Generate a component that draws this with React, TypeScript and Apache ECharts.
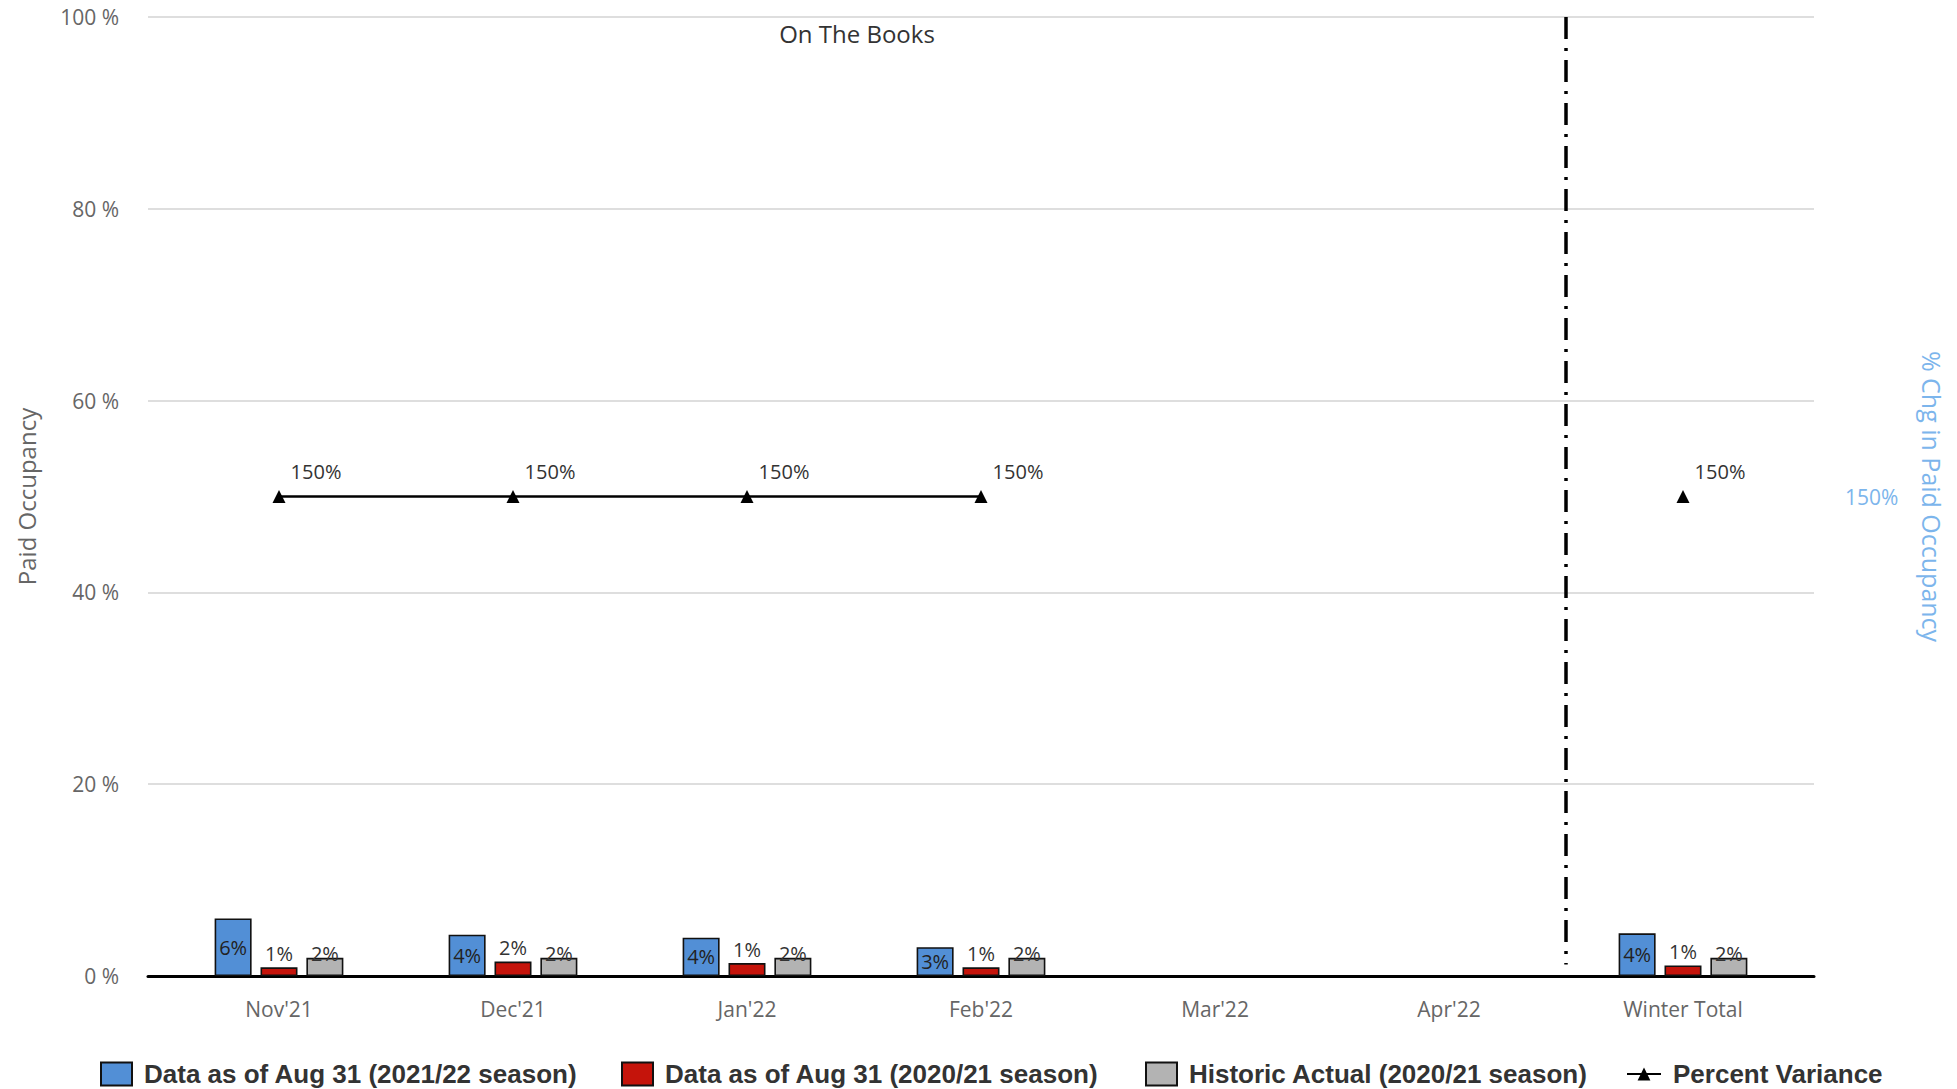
import React, { useEffect, useRef } from "react";
import * as echarts from "echarts";

const categories = ["Nov'21", "Dec'21", "Jan'22", "Feb'22", "Mar'22", "Apr'22", "Winter Total"];
const season2122 = [6.0, 4.3, 4.0, 3.0, null, null, 4.45];
const season2021 = [0.9, 1.5, 1.35, 0.9, null, null, 1.1];
const historic2021 = [1.9, 1.9, 1.9, 1.9, null, null, 1.9];
const percentVariance = [150, 150, 150, 150, null, null, 150];
const leftTicks = [0, 20, 40, 60, 80, 100];

const seriesNames = [
  "Data as of Aug 31 (2021/22 season)",
  "Data as of Aug 31 (2020/21 season)",
  "Historic Actual (2020/21 season)",
  "Percent Variance",
];

const FONT = "'Open Sans', 'DejaVu Sans', sans-serif";
const LEGEND_FONT = "'Liberation Sans', Arial, sans-serif";

export default function App() {
  const ref = useRef<HTMLDivElement>(null);

  useEffect(() => {
    if (!ref.current) return;
    const chart = echarts.init(ref.current, undefined, { renderer: "svg" });

    const barLabelBase = {
      show: true,
      fontFamily: FONT,
      fontSize: 20,
      color: "#333",
      formatter: (p: any) => (p.value == null ? "" : Math.round(p.value) + "%"),
    };

    const legendBase = (name: string, left: number, isLine = false) => ({
      data: [name],
      left,
      top: 1061,
      padding: 0,
      itemWidth: isLine ? 34 : 31,
      itemHeight: isLine ? 16 : 23,
      icon: isLine ? undefined : "rect",
      selectedMode: false,
      textStyle: {
        fontFamily: LEGEND_FONT,
        fontSize: 26,
        fontWeight: "bold",
        color: "#333",
        padding: [0, 0, 0, 7],
      },
    });

    chart.setOption({
      animation: false,
      backgroundColor: "#fff",
      grid: [
        { left: 148, right: 143, top: 17, bottom: 113 },
        { left: 162, right: 157, top: 17, bottom: 113 },
      ],
      legend: [
        legendBase(seriesNames[0], 100),
        legendBase(seriesNames[1], 621),
        legendBase(seriesNames[2], 1145),
        legendBase(seriesNames[3], 1626, true),
      ],
      xAxis: [
        {
          gridIndex: 0,
          type: "value",
          min: 0,
          max: 1,
          axisLine: { show: true, onZero: false, lineStyle: { color: "#000", width: 3 } },
          axisTick: { show: false },
          axisLabel: { show: false },
          splitLine: { show: false },
        },
        {
          gridIndex: 1,
          type: "category",
          data: categories,
          axisLine: { show: false },
          axisTick: { show: false },
          axisLabel: { color: "#666", fontFamily: FONT, fontSize: 21, margin: 22 },
          splitLine: { show: false },
        },
      ],
      yAxis: [
        {
          gridIndex: 0,
          type: "value",
          min: leftTicks[0],
          max: leftTicks[leftTicks.length - 1],
          interval: 20,
          axisLine: { show: false },
          axisTick: { show: false },
          axisLabel: {
            color: "#666",
            fontFamily: FONT,
            fontSize: 21,
            margin: 29,
            formatter: "{value} %",
          },
          splitLine: { lineStyle: { color: "#d3d3d3", width: 1.5 } },
          name: "Paid Occupancy",
          nameLocation: "middle",
          nameRotate: 90,
          nameGap: 110,
          nameTextStyle: { color: "#666", fontFamily: FONT, fontSize: 24 },
        },
        {
          gridIndex: 1,
          type: "value",
          min: 0,
          max: 100,
          show: false,
        },
        {
          gridIndex: 1,
          type: "value",
          position: "right",
          min: 0,
          max: 300,
          interval: 150,
          axisLine: { show: false },
          axisTick: { show: false },
          splitLine: { show: false },
          axisLabel: {
            color: "#7cb5ec",
            fontFamily: FONT,
            fontSize: 21,
            margin: 45,
            formatter: (v: number) => (v === 150 ? v + "%" : ""),
          },
          name: "% Chg in Paid Occupancy",
          nameLocation: "middle",
          nameRotate: -90,
          nameGap: 119,
          nameTextStyle: { color: "#7cb5ec", fontFamily: FONT, fontSize: 25 },
        },
      ],
      series: [
        {
          name: seriesNames[0],
          type: "bar",
          xAxisIndex: 1,
          yAxisIndex: 1,
          data: season2122,
          barWidth: 37,
          barGap: "24%",
          itemStyle: { color: "#528fd6", borderColor: "#111", borderWidth: 1.6 },
          label: { ...barLabelBase, position: "inside", color: "#222" },
        },
        {
          name: seriesNames[1],
          type: "bar",
          xAxisIndex: 1,
          yAxisIndex: 1,
          data: season2021,
          barWidth: 37,
          barGap: "24%",
          itemStyle: { color: "#c5140b", borderColor: "#111", borderWidth: 1.6 },
          label: { ...barLabelBase, position: "top", distance: 4 },
        },
        {
          name: seriesNames[2],
          type: "bar",
          xAxisIndex: 1,
          yAxisIndex: 1,
          data: historic2021,
          barWidth: 37,
          barGap: "24%",
          itemStyle: { color: "#b3b3b3", borderColor: "#111", borderWidth: 1.6 },
          label: { ...barLabelBase, position: "top", distance: -6 },
        },
        {
          name: seriesNames[3],
          type: "line",
          xAxisIndex: 1,
          yAxisIndex: 2,
          data: percentVariance,
          connectNulls: false,
          symbol: "triangle",
          symbolSize: 13,
          itemStyle: { color: "#000" },
          lineStyle: { color: "#000", width: 2.5 },
          label: {
            show: true,
            position: "top",
            distance: 5,
            offset: [37, -4],
            fontFamily: FONT,
            fontSize: 20,
            color: "#333",
            formatter: (p: any) => (p.value == null ? "" : p.value + "%"),
          },
          z: 5,
        },
      ],
    });

    const xA = chart.convertToPixel({ xAxisIndex: 1 }, categories[5]) as number;
    const xB = chart.convertToPixel({ xAxisIndex: 1 }, categories[6]) as number;
    const xDiv = (xA + xB) / 2;
    const gridLeft = chart.convertToPixel({ xAxisIndex: 0 }, 0) as number;
    const yTop = chart.convertToPixel({ yAxisIndex: 0 }, 100) as number;
    const yBottom = chart.convertToPixel({ yAxisIndex: 0 }, 1.2) as number;

    chart.setOption({
      graphic: [
        {
          type: "line",
          shape: { x1: xDiv, y1: yTop, x2: xDiv, y2: yBottom },
          style: { stroke: "#000", lineWidth: 3.5, lineDash: [22, 9, 3, 9] },
          z: 10,
        },
        {
          type: "text",
          x: (gridLeft + xDiv) / 2,
          y: yTop + 16,
          style: {
            text: "On The Books",
            fill: "#333",
            font: `24px ${FONT}`,
            align: "center",
            verticalAlign: "middle",
          },
        },
      ],
    });

    return () => chart.dispose();
  }, []);

  return (
    <div
      ref={ref}
      style={{ position: "absolute", left: 0, top: 0, width: 1957, height: 1089 }}
    />
  );
}
